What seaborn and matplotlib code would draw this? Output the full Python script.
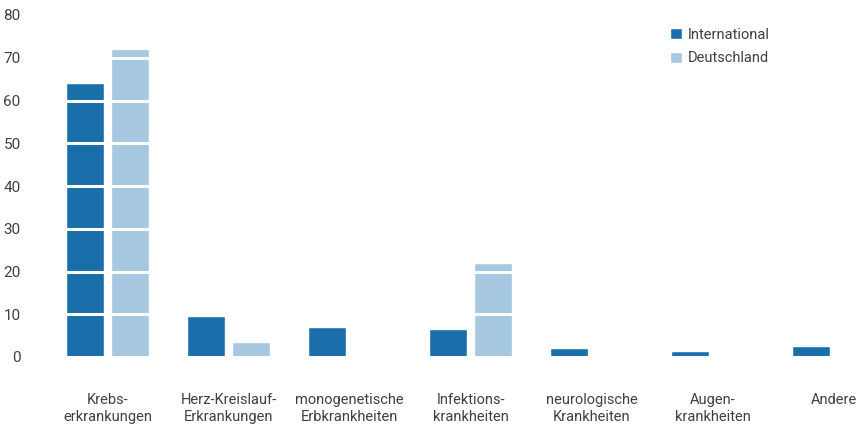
import numpy as np
import pandas as pd
import matplotlib
matplotlib.use("Agg")
import matplotlib.pyplot as plt
import seaborn as sns

categories = [
    "Krebs-\nerkrankungen",
    "Herz-Kreislauf-\nErkrankungen",
    "monogenetische\nErbkrankheiten",
    "Infektions-\nkrankheiten",
    "neurologische\nKrankheiten",
    "Augen-\nkrankheiten",
    "Andere",
]
international = [64, 9.6, 7.0, 6.5, 2.0, 1.5, 2.5]
deutschland = [72, 3.5, np.nan, 22, np.nan, np.nan, np.nan]
series_names = ["International", "Deutschland"]
colors = ["#1a6fab", "#a5c8e0"]
y_ticks = [0, 10, 20, 30, 40, 50, 60, 70, 80]

df = pd.DataFrame({
    "Kategorie": categories * 2,
    "Serie": [series_names[0]] * len(categories) + [series_names[1]] * len(categories),
    "Wert": international + deutschland,
})

sns.set_theme(style="white")
plt.rcParams["font.family"] = ["Roboto", "DejaVu Sans"]
text_color = "#404040"
fs = 10.5

fig = plt.figure(figsize=(8.61, 4.26), dpi=100)
ax = fig.add_axes([47 / 861, (426 - 357) / 426, 1 - 47 / 861, (357 - 15) / 426])

sns.barplot(data=df, x="Kategorie", y="Wert", hue="Serie", order=categories,
            hue_order=series_names, palette=colors, width=0.744, gap=0.156,
            saturation=1, ax=ax, legend=True)

ax.set_ylim(0, 80)
ax.set_xlim(-0.5, (861 - 107.5) / 121)
ax.set_yticks(y_ticks)
ax.set_yticklabels([str(t) for t in y_ticks])
ax.set_xlabel("")
ax.set_ylabel("")
for s in ax.spines.values():
    s.set_visible(False)

# white gridlines drawn on top of the bars
ax.set_axisbelow(False)
ax.yaxis.grid(True, color="white", linewidth=2.2)
ax.xaxis.grid(False)

ax.tick_params(axis="y", length=0, pad=19, labelsize=fs + 0.5, labelcolor=text_color)
ax.tick_params(axis="x", length=0, pad=26, labelsize=fs, labelcolor=text_color)
for lbl in ax.get_yticklabels():
    lbl.set_horizontalalignment("right")
for lbl in ax.get_xticklabels():
    lbl.set_linespacing(1.3)

handles, labels = ax.get_legend_handles_labels()
ax.legend(handles, labels, loc="upper left", bbox_to_anchor=(664 / 861, 1 - 22 / 426),
          bbox_transform=fig.transFigure, frameon=False, fontsize=fs,
          handlelength=0.8, handleheight=0.8, handletextpad=0.45, labelspacing=0.65,
          labelcolor=text_color, borderaxespad=0)

fig.savefig("out.png", dpi=100)
